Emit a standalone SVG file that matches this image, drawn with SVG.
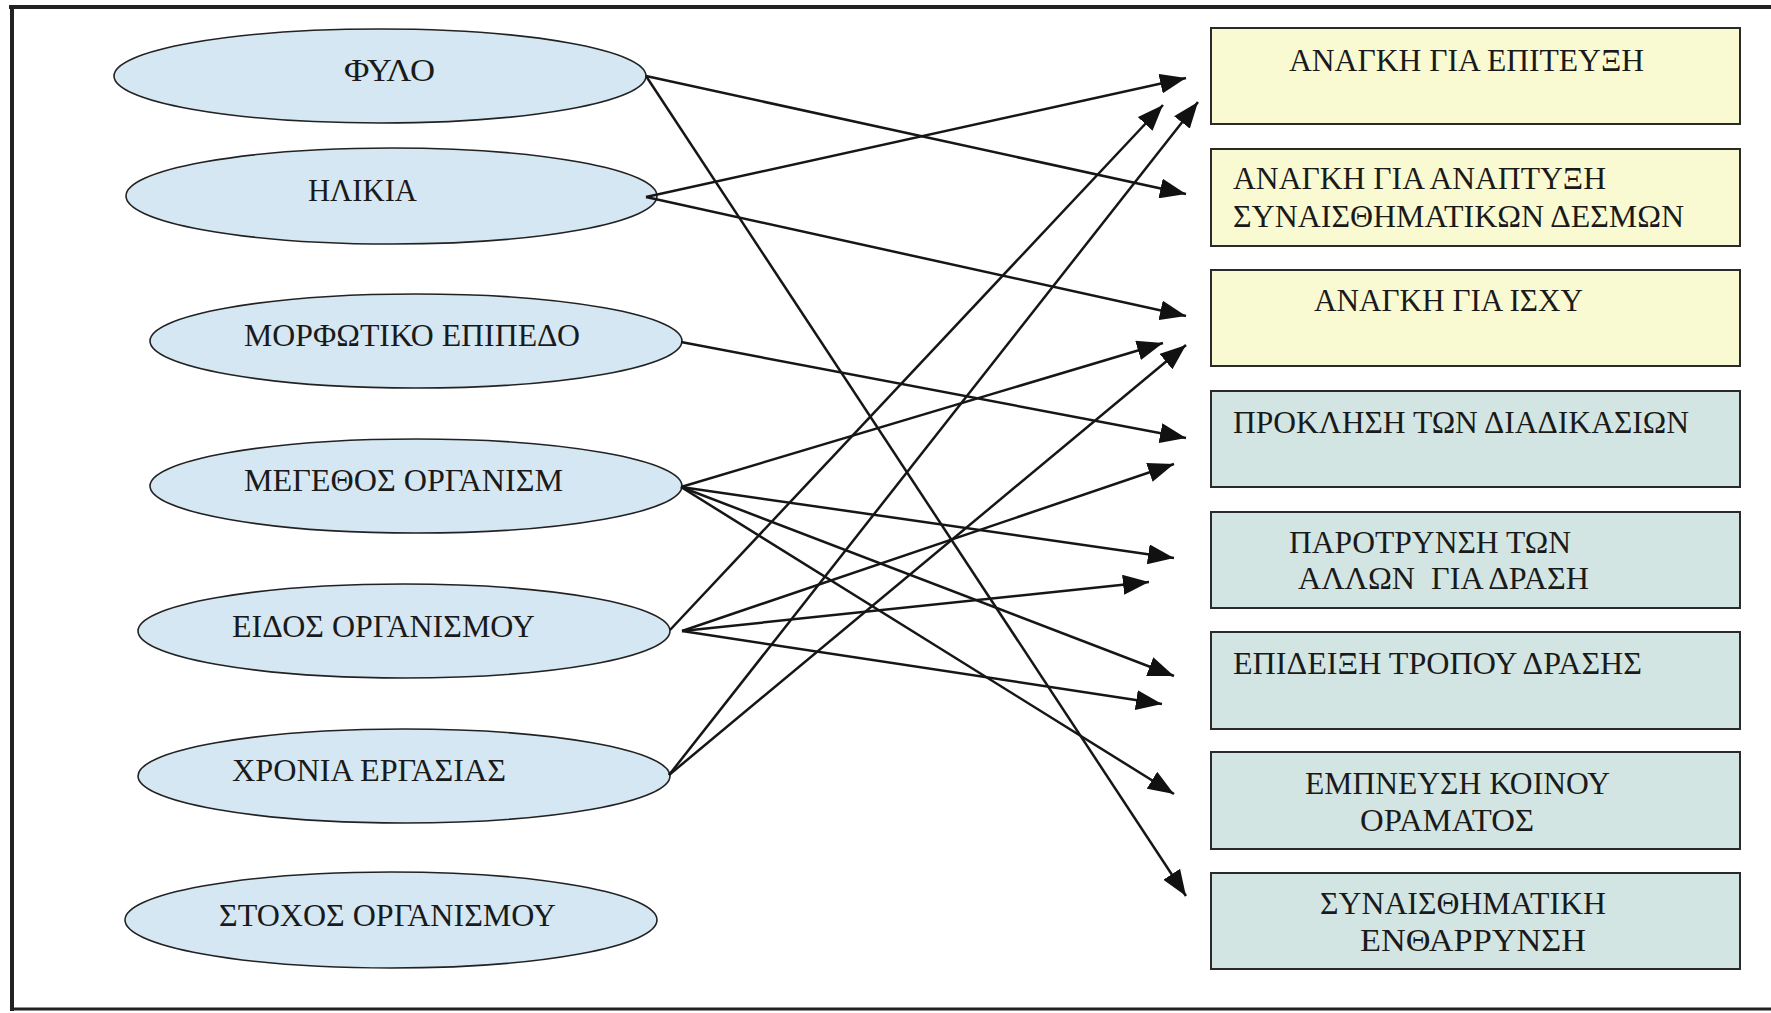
<svg xmlns="http://www.w3.org/2000/svg" width="1771" height="1013" viewBox="0 0 1771 1013">
  <style>
    .factor ellipse { fill: #d5e7f2; stroke: #222; stroke-width: 1.6; }
    .need rect { fill: #f9f9d2; stroke: #2a2a2a; stroke-width: 2; }
    .style rect { fill: #d2e5e2; stroke: #2a2a2a; stroke-width: 2; }
    text { font-family: "Liberation Serif", "DejaVu Serif", serif; font-size: 31px; fill: #1a1a1a; }
    #connectors line { stroke: #161616; stroke-width: 2.5; marker-end: url(#arrow); }
    .frame { stroke: #222; fill: none; }
  </style>
  <defs>
    <marker id="arrow" markerUnits="userSpaceOnUse" markerWidth="26" markerHeight="20" refX="26" refY="10" orient="auto">
      <path d="M0,0 L26,10 L0,20 z" fill="#111"/>
    </marker>
  </defs>

  <rect width="1771" height="1013" fill="#ffffff"/>

  <!-- outer frame: top, left and bottom rules -->
  <g id="frame">
    <line class="frame" x1="9" y1="7" x2="1771" y2="7" stroke-width="4"/>
    <line class="frame" x1="12" y1="5" x2="12" y2="1011" stroke-width="4"/>
    <line class="frame" x1="10" y1="1009" x2="1771" y2="1009" stroke-width="3"/>
  </g>

  <!-- left column: organisational factors -->
  <g id="factor-fylo" class="factor">
    <ellipse cx="380" cy="76" rx="266" ry="47"/>
    <text x="344" y="81" textLength="91" lengthAdjust="spacingAndGlyphs">ΦΥΛΟ</text>
  </g>
  <g id="factor-ilikia" class="factor">
    <ellipse cx="391.5" cy="196" rx="265.5" ry="48"/>
    <text x="308" y="201" textLength="109" lengthAdjust="spacingAndGlyphs">ΗΛΙΚΙΑ</text>
  </g>
  <g id="factor-morfotiko" class="factor">
    <ellipse cx="416" cy="341" rx="266" ry="47"/>
    <text x="244" y="346" textLength="336" lengthAdjust="spacingAndGlyphs">ΜΟΡΦΩΤΙΚΟ ΕΠΙΠΕΔΟ</text>
  </g>
  <g id="factor-megethos" class="factor">
    <ellipse cx="416" cy="486" rx="266" ry="47"/>
    <text x="244" y="491" textLength="319" lengthAdjust="spacingAndGlyphs">ΜΕΓΕΘΟΣ ΟΡΓΑΝΙΣΜ</text>
  </g>
  <g id="factor-eidos" class="factor">
    <ellipse cx="404" cy="631" rx="266" ry="47"/>
    <text x="232" y="637" textLength="303" lengthAdjust="spacingAndGlyphs">ΕΙΔΟΣ ΟΡΓΑΝΙΣΜΟΥ</text>
  </g>
  <g id="factor-chronia" class="factor">
    <ellipse cx="404" cy="776" rx="266" ry="47"/>
    <text x="232" y="781" textLength="274" lengthAdjust="spacingAndGlyphs">ΧΡΟΝΙΑ ΕΡΓΑΣΙΑΣ</text>
  </g>
  <g id="factor-stochos" class="factor">
    <ellipse cx="391" cy="920" rx="266" ry="48"/>
    <text x="219" y="926" textLength="337" lengthAdjust="spacingAndGlyphs">ΣΤΟΧΟΣ ΟΡΓΑΝΙΣΜΟΥ</text>
  </g>

  <!-- right column: needs (yellow) and leadership behaviours (teal) -->
  <g id="need-epiteuxi" class="need">
    <rect x="1211" y="28" width="529" height="96"/>
    <text x="1289" y="71" textLength="355" lengthAdjust="spacingAndGlyphs">ΑΝΑΓΚΗ ΓΙΑ ΕΠΙΤΕΥΞΗ</text>
  </g>
  <g id="need-desmoi" class="need">
    <rect x="1211" y="149" width="529" height="97"/>
    <text x="1233" y="189" textLength="373" lengthAdjust="spacingAndGlyphs">ΑΝΑΓΚΗ ΓΙΑ ΑΝΑΠΤΥΞΗ</text>
    <text x="1233" y="227" textLength="451" lengthAdjust="spacingAndGlyphs">ΣΥΝΑΙΣΘΗΜΑΤΙΚΩΝ ΔΕΣΜΩΝ</text>
  </g>
  <g id="need-ischys" class="need">
    <rect x="1211" y="270" width="529" height="96"/>
    <text x="1314" y="311" textLength="269" lengthAdjust="spacingAndGlyphs">ΑΝΑΓΚΗ ΓΙΑ ΙΣΧΥ</text>
  </g>
  <g id="style-proklisi" class="style">
    <rect x="1211" y="391" width="529" height="96"/>
    <text x="1233" y="433" textLength="456" lengthAdjust="spacingAndGlyphs">ΠΡΟΚΛΗΣΗ ΤΩΝ ΔΙΑΔΙΚΑΣΙΩΝ</text>
  </g>
  <g id="style-parotrynsi" class="style">
    <rect x="1211" y="512" width="529" height="96"/>
    <text x="1289" y="553" textLength="282" lengthAdjust="spacingAndGlyphs">ΠΑΡΟΤΡΥΝΣΗ ΤΩΝ</text>
    <text x="1298" y="589" textLength="291" lengthAdjust="spacingAndGlyphs" xml:space="preserve">ΑΛΛΩΝ  ΓΙΑ ΔΡΑΣΗ</text>
  </g>
  <g id="style-epideixi" class="style">
    <rect x="1211" y="632" width="529" height="97"/>
    <text x="1233" y="674" textLength="409" lengthAdjust="spacingAndGlyphs">ΕΠΙΔΕΙΞΗ ΤΡΟΠΟΥ ΔΡΑΣΗΣ</text>
  </g>
  <g id="style-empneusi" class="style">
    <rect x="1211" y="752" width="529" height="97"/>
    <text x="1305" y="794" textLength="305" lengthAdjust="spacingAndGlyphs">ΕΜΠΝΕΥΣΗ ΚΟΙΝΟΥ</text>
    <text x="1360" y="831" textLength="174" lengthAdjust="spacingAndGlyphs">ΟΡΑΜΑΤΟΣ</text>
  </g>
  <g id="style-entharrynsi" class="style">
    <rect x="1211" y="873" width="529" height="96"/>
    <text x="1320" y="914" textLength="286" lengthAdjust="spacingAndGlyphs">ΣΥΝΑΙΣΘΗΜΑΤΙΚΗ</text>
    <text x="1360" y="951" textLength="226" lengthAdjust="spacingAndGlyphs">ΕΝΘΑΡΡΥΝΣΗ</text>
  </g>

  <!-- arrows from each factor to the outcomes it influences -->
  <g id="connectors">
    <line x1="646" y1="76" x2="1186" y2="194"/>
    <line x1="646" y1="76" x2="1186" y2="896"/>
    <line x1="646" y1="197" x2="1186" y2="78"/>
    <line x1="646" y1="197" x2="1186" y2="316"/>
    <line x1="681" y1="342" x2="1186" y2="438"/>
    <line x1="681" y1="487" x2="1163" y2="343"/>
    <line x1="681" y1="487" x2="1174" y2="558"/>
    <line x1="681" y1="487" x2="1174" y2="676"/>
    <line x1="681" y1="487" x2="1174" y2="794"/>
    <line x1="670" y1="630" x2="1163" y2="105"/>
    <line x1="682" y1="631" x2="1174" y2="464"/>
    <line x1="682" y1="631" x2="1149" y2="582"/>
    <line x1="682" y1="631" x2="1162" y2="704"/>
    <line x1="669" y1="775" x2="1198" y2="102"/>
    <line x1="669" y1="775" x2="1186" y2="345"/>
  </g>
</svg>
